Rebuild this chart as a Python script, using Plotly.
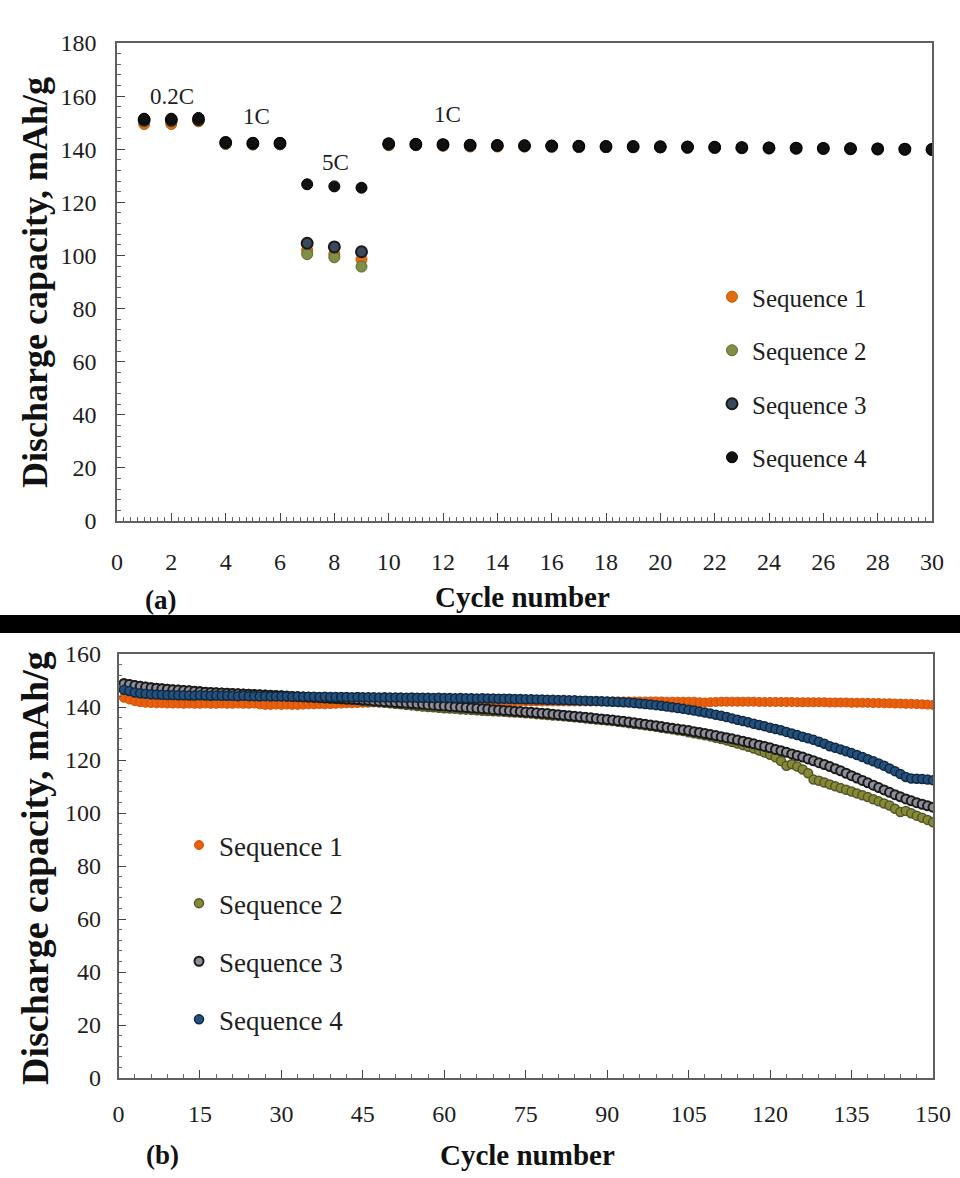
import plotly.graph_objects as go

W, H = 960, 1178

# ---------------- Panel (a) data ----------------
cycles_a = list(range(1, 31))
a_seq1 = [149.5, 149.5, 150.5, 142.0, 141.8, 142.0, 102.0, 100.5, 98.5,
          141.5, 141.5, 141.3, 141.0, 141.0, 141.0, 141.0, 140.8, 140.8, 140.7, 140.7,
          140.5, 140.5, 140.5, 140.3, 140.3, 140.2, 140.0, 140.0, 139.8, 139.7]
a_seq2 = [150.5, 150.5, 150.8, 142.0, 141.8, 141.8, 100.5, 99.3, 95.8,
          141.6, 141.6, 141.4, 141.2, 141.2, 141.1, 141.0, 140.9, 140.8, 140.8, 140.7,
          140.6, 140.5, 140.5, 140.4, 140.3, 140.2, 140.1, 140.0, 139.9, 139.8]
a_seq3 = [151.0, 151.0, 151.2, 142.5, 142.2, 142.2, 104.6, 103.2, 101.4,
          142.0, 141.8, 141.7, 141.5, 141.4, 141.3, 141.2, 141.1, 141.0, 141.0, 140.9,
          140.8, 140.7, 140.6, 140.5, 140.4, 140.3, 140.2, 140.1, 140.0, 139.9]
a_seq4 = [151.5, 151.5, 151.8, 142.6, 142.4, 142.4, 126.8, 126.0, 125.5,
          142.2, 142.0, 141.8, 141.6, 141.5, 141.4, 141.3, 141.2, 141.1, 141.0, 141.0,
          140.9, 140.8, 140.7, 140.6, 140.5, 140.4, 140.3, 140.2, 140.1, 140.0]

rate_labels = ["0.2C", "1C", "5C", "1C"]
rate_label_x = [2.02, 5.15, 8.06, 12.15]
rate_label_y = [160, 152.5, 135, 153]

# ---------------- Panel (b) data ----------------
cycles_b = list(range(1, 151))
b_seq1 = [143.5, 142.8, 142.2, 141.8, 141.6, 141.5, 141.4, 141.4, 141.3, 141.3,
          141.3, 141.2, 141.3, 141.2, 141.2, 141.3, 141.2, 141.2, 141.3, 141.2,
          141.2, 141.3, 141.2, 141.2, 141.3, 141.0, 140.8, 140.8, 140.9, 140.8,
          140.9, 140.8, 140.8, 140.9, 141.0, 141.0, 141.1, 141.0, 141.1, 141.2,
          141.3, 141.4, 141.4, 141.5, 141.6, 141.6, 141.7, 141.7, 141.8, 141.8,
          141.9, 141.9, 141.9, 142.0, 142.0, 142.0, 142.0, 142.0, 142.1, 142.1,
          142.1, 142.1, 142.1, 142.1, 142.1, 142.1, 142.1, 142.1, 142.1, 142.1,
          142.1, 142.1, 142.1, 142.1, 142.1, 142.1, 142.1, 142.1, 142.1, 142.1,
          142.1, 142.1, 142.1, 142.1, 142.1, 142.1, 142.1, 142.1, 142.1, 142.1,
          142.1, 142.1, 142.1, 142.1, 142.1, 142.1, 142.1, 142.1, 142.1, 142.1,
          142.0, 142.0, 142.0, 142.0, 142.0, 142.0, 141.8, 141.7, 141.8, 141.9,
          142.0, 142.0, 142.0, 142.0, 142.0, 142.0, 142.0, 141.9, 141.9, 141.9,
          141.9, 141.9, 141.9, 141.9, 141.8, 141.8, 141.8, 141.8, 141.8, 141.8,
          141.7, 141.7, 141.7, 141.7, 141.6, 141.6, 141.6, 141.6, 141.5, 141.5,
          141.4, 141.4, 141.3, 141.3, 141.2, 141.2, 141.1, 141.0, 140.9, 140.8]
b_seq2 = [149.0, 148.6, 148.2, 147.9, 147.6, 147.4, 147.2, 147.0, 146.8, 146.6,
          146.5, 146.3, 146.2, 146.0, 145.9, 145.7, 145.6, 145.5, 145.4, 145.3,
          145.2, 145.1, 145.0, 144.9, 144.8, 144.7, 144.6, 144.5, 144.4, 144.3,
          144.2, 144.1, 144.0, 143.9, 143.8, 143.7, 143.5, 143.4, 143.3, 143.1,
          143.0, 142.8, 142.7, 142.5, 142.3, 142.2, 142.0, 141.8, 141.6, 141.4,
          141.2, 141.0, 140.8, 140.6, 140.4, 140.2, 140.0, 139.9, 139.7, 139.5,
          139.4, 139.3, 139.1, 139.0, 138.9, 138.8, 138.6, 138.5, 138.4, 138.3,
          138.2, 138.0, 137.9, 137.8, 137.6, 137.5, 137.3, 137.2, 137.0, 136.8,
          136.7, 136.5, 136.3, 136.1, 135.9, 135.7, 135.5, 135.3, 135.1, 134.9,
          134.7, 134.4, 134.2, 133.9, 133.6, 133.4, 133.1, 132.8, 132.5, 132.2,
          131.9, 131.6, 131.2, 130.9, 130.5, 130.1, 129.7, 129.3, 128.9, 128.4,
          127.9, 127.4, 126.8, 126.2, 125.6, 125.0, 124.3, 123.6, 122.8, 122.0,
          121.0, 119.6, 117.8, 118.4, 117.5, 116.4, 115.0, 112.6, 112.2, 111.5,
          110.8, 110.1, 109.4, 108.8, 108.1, 107.4, 106.7, 106.0, 105.2, 104.4,
          103.6, 102.8, 101.6, 100.4, 100.8, 99.9, 99.0, 98.2, 97.4, 96.5]
b_seq3 = [148.8, 148.5, 148.1, 147.8, 147.5, 147.3, 147.1, 146.9, 146.7, 146.5,
          146.4, 146.2, 146.1, 145.9, 145.8, 145.6, 145.5, 145.4, 145.3, 145.2,
          145.1, 145.0, 144.9, 144.8, 144.7, 144.6, 144.5, 144.4, 144.3, 144.2,
          144.1, 144.0, 143.9, 143.8, 143.7, 143.6, 143.5, 143.4, 143.3, 143.2,
          143.1, 143.0, 142.9, 142.8, 142.6, 142.5, 142.3, 142.2, 142.0, 141.9,
          141.7, 141.6, 141.4, 141.3, 141.1, 141.0, 140.8, 140.7, 140.5, 140.4,
          140.2, 140.1, 139.9, 139.8, 139.6, 139.5, 139.3, 139.2, 139.0, 138.9,
          138.7, 138.6, 138.4, 138.3, 138.1, 138.0, 137.8, 137.6, 137.5, 137.3,
          137.1, 136.9, 136.7, 136.5, 136.3, 136.1, 135.9, 135.7, 135.5, 135.3,
          135.1, 134.8, 134.6, 134.3, 134.1, 133.8, 133.5, 133.2, 132.9, 132.6,
          132.3, 132.0, 131.7, 131.4, 131.1, 130.7, 130.4, 130.0, 129.6, 129.2,
          128.8, 128.4, 128.0, 127.5, 127.1, 126.6, 126.1, 125.6, 125.1, 124.6,
          124.0, 123.5, 122.9, 122.3, 121.7, 121.1, 120.4, 119.7, 119.0, 118.3,
          117.5, 116.7, 115.9, 115.0, 114.1, 113.2, 112.3, 111.4, 110.5, 109.6,
          108.7, 107.8, 106.9, 106.1, 105.3, 104.6, 103.9, 103.3, 102.7, 102.2]
b_seq4 = [146.5, 146.0, 145.5, 145.2, 145.0, 144.8, 144.7, 144.6, 144.5, 144.5,
          144.4, 144.4, 144.3, 144.3, 144.4, 144.3, 144.2, 144.3, 144.2, 144.2,
          144.2, 144.1, 144.2, 144.1, 144.1, 144.0, 144.1, 144.0, 144.0, 144.0,
          144.0, 143.9, 144.0, 143.9, 143.9, 143.9, 143.8, 143.9, 143.8, 143.8,
          143.8, 143.8, 143.7, 143.8, 143.7, 143.7, 143.7, 143.6, 143.7, 143.6,
          143.6, 143.6, 143.5, 143.6, 143.5, 143.5, 143.5, 143.4, 143.5, 143.4,
          143.4, 143.3, 143.4, 143.3, 143.3, 143.2, 143.3, 143.2, 143.2, 143.1,
          143.1, 143.1, 143.0, 143.0, 142.9, 142.9, 142.8, 142.8, 142.7, 142.7,
          142.6, 142.6, 142.5, 142.5, 142.4, 142.4, 142.3, 142.3, 142.2, 142.1,
          142.0, 141.9, 141.8, 141.7, 141.5, 141.3, 141.1, 140.9, 140.7, 140.5,
          140.2, 139.9, 139.6, 139.3, 139.0, 138.7, 138.3, 137.9, 137.5, 137.1,
          136.7, 136.2, 135.7, 135.2, 134.7, 134.2, 133.7, 133.2, 132.7, 132.2,
          131.7, 131.2, 130.6, 130.0, 129.4, 128.8, 128.2, 127.6, 126.9, 126.1,
          125.2, 124.6, 124.0, 123.3, 122.6, 121.9, 121.1, 120.3, 119.5, 118.7,
          117.8, 116.8, 115.8, 114.7, 113.6, 113.0, 112.9, 112.8, 112.6, 112.4]

series_names = ["Sequence 1", "Sequence 2", "Sequence 3", "Sequence 4"]

SERIF = "Liberation Serif"


def px_x(r):
    return r / W


def px_y(r):
    return 1 - r / H


fig = go.Figure()

styles_a = [
    dict(color="#E46C0A", line=dict(color="#C05A10", width=1)),
    dict(color="#7F9046", line=dict(color="#5E6B30", width=1)),
    dict(color="#3A4A5C", line=dict(color="#1A1A1A", width=2)),
    dict(color="#111111", line=dict(color="#000000", width=1)),
]
for name, ys, st in zip(series_names, [a_seq1, a_seq2, a_seq3, a_seq4], styles_a):
    fig.add_trace(go.Scatter(
        x=cycles_a, y=ys, mode="markers", name=name,
        marker=dict(size=11, **st),
        xaxis="x", yaxis="y", legend="legend", legendgroup="a" + name,
    ))

styles_b = [
    dict(color="#E8600C", line=dict(color="#D0500A", width=1)),
    dict(color="#878A34", line=dict(color="#55552C", width=1.5)),
    dict(color="#8E8E9A", line=dict(color="#1A1A1A", width=2)),
    dict(color="#24507E", line=dict(color="#102840", width=1.5)),
]
for name, ys, st in zip(series_names, [b_seq1, b_seq2, b_seq3, b_seq4], styles_b):
    fig.add_trace(go.Scatter(
        x=cycles_b, y=ys, mode="markers", name=name,
        marker=dict(size=9, **st),
        xaxis="x2", yaxis="y2", legend="legend2", legendgroup="b" + name,
    ))

axis_common = dict(
    showline=True, mirror=True, linecolor="#606060", linewidth=1.5,
    ticks="inside", tickcolor="#444444", ticklen=8, tickwidth=1,
    showgrid=False, zeroline=False, automargin=False,
    tickfont=dict(family=SERIF, size=24, color="#1E1E1E"),
)
minor_c = dict(ticks="inside", ticklen=4, tickcolor="#666666")

fig.update_layout(
    width=W, height=H,
    margin=dict(l=0, r=0, t=0, b=0, pad=0, autoexpand=False),
    paper_bgcolor="white", plot_bgcolor="white",
    showlegend=True,
    xaxis=dict(domain=[px_x(117), px_x(932)], range=[0, 30], dtick=2, anchor="y",
               minor=dict(dtick=0.25, **minor_c),
               ticklabelstandoff=18, **axis_common),
    yaxis=dict(domain=[px_y(521), px_y(43)], range=[0, 180], dtick=20, anchor="x",
               minor=dict(dtick=4, **minor_c),
               ticklabelstandoff=14, **axis_common),
    xaxis2=dict(domain=[px_x(118.5), px_x(933)], range=[0, 150], dtick=15, anchor="y2",
                minor=dict(dtick=3, **minor_c),
                ticklabelstandoff=13, **axis_common),
    yaxis2=dict(domain=[px_y(1078), px_y(654)], range=[0, 160], dtick=20, anchor="x2",
                minor=dict(dtick=4, **minor_c),
                ticklabelstandoff=11, **axis_common),
    legend=dict(x=px_x(731 - 19), y=px_y(298 - 24), xanchor="left", yanchor="top",
                font=dict(family=SERIF, size=25, color="#1E1E1E"),
                bgcolor="rgba(0,0,0,0)", itemwidth=30, tracegroupgap=18,
                traceorder="grouped"),
    legend2=dict(x=px_x(198 - 19), y=px_y(847 - 26), xanchor="left", yanchor="top",
                 font=dict(family=SERIF, size=27, color="#1E1E1E"),
                 bgcolor="rgba(0,0,0,0)", itemwidth=30, tracegroupgap=20,
                 traceorder="grouped"),
)

annotations = []
for t, xv, yv in zip(rate_labels, rate_label_x, rate_label_y):
    annotations.append(dict(x=xv, y=yv, xref="x", yref="y", text=t, showarrow=False,
                            font=dict(family=SERIF, size=23, color="#1E1E1E")))


def paper_text(text, x, y, size, angle=0, bold=True):
    return dict(x=px_x(x), y=px_y(y), xref="paper", yref="paper",
                text=("<b>%s</b>" % text) if bold else text, showarrow=False,
                textangle=angle, xanchor="center", yanchor="middle",
                font=dict(family=SERIF, size=size, color="#111111"))


annotations += [
    paper_text("Discharge capacity, mAh/g", 35, 283, 36, -90),
    paper_text("Cycle number", 522, 597, 29),
    paper_text("(a)", 160, 600, 27),
    paper_text("Discharge capacity, mAh/g", 35, 868, 38, -90),
    paper_text("Cycle number", 527, 1155, 29),
    paper_text("(b)", 162, 1155, 27),
]
fig.update_layout(annotations=annotations)

# black separator band
fig.add_shape(type="rect", xref="paper", yref="paper",
              x0=0, x1=1, y0=px_y(633), y1=px_y(615),
              fillcolor="black", line=dict(width=0), layer="above")

fig.write_html(
    "out.html",
    config={"displayModeBar": False},
    post_script="document.body.style.margin='0';document.body.style.overflow='hidden';",
)
